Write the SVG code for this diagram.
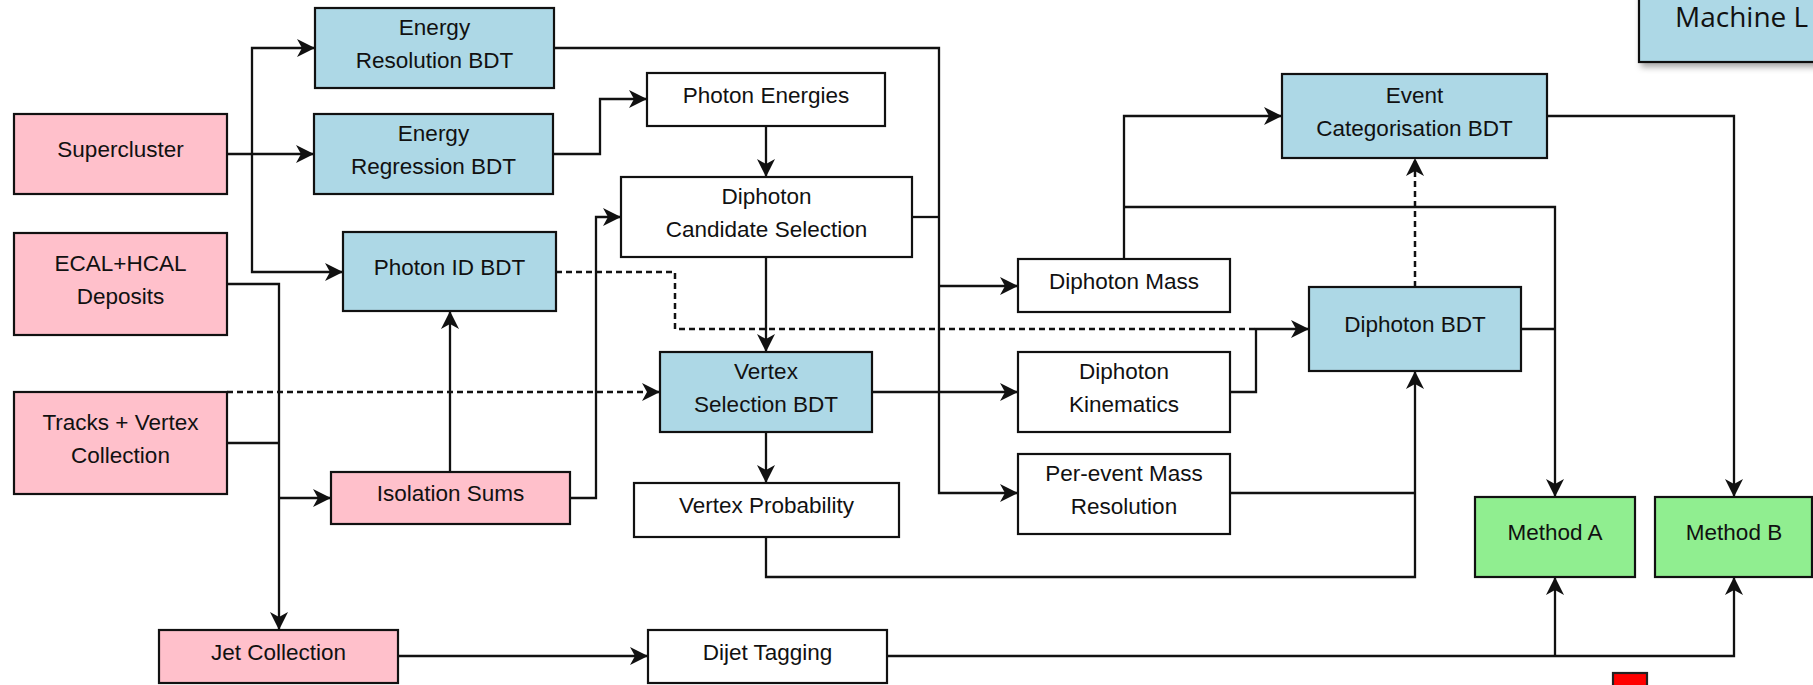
<svg xmlns="http://www.w3.org/2000/svg" width="1813" height="685" viewBox="0 0 1813 685">
<style>
.box{stroke:#111;stroke-width:2.2}
.pink{fill:#FFC0CB}
.blue{fill:#ADD8E6}
.green{fill:#90EE90}
.white{fill:#FFFFFF}
text{font-family:"Liberation Sans",Arial,sans-serif;font-size:22.5px;fill:#111;text-anchor:middle}
.ml{font-family:"Open Sans","Noto Sans",sans-serif;font-size:28px;text-anchor:start}
.c{fill:none;stroke:#111;stroke-width:2.3}
.d{fill:none;stroke:#111;stroke-width:2.5;stroke-dasharray:6 4}
</style>
<defs>
<marker id="arr" markerUnits="userSpaceOnUse" markerWidth="19" markerHeight="18" refX="18" refY="9" orient="auto">
<path d="M0,0 L18,9 L0,18 L5,9 z" fill="#111"/>
</marker>
<filter id="sh" x="-20%" y="-20%" width="150%" height="160%">
<feDropShadow dx="3" dy="4" stdDeviation="3" flood-color="#000" flood-opacity="0.35"/>
</filter>
</defs>
<rect width="1813" height="685" fill="#FFFFFF"/>

<g id="legend">
<rect x="1639" y="-10" width="190" height="72" class="box blue" filter="url(#sh)"/>
<text class="ml" x="1675" y="27">Machine L</text>
</g>

<g id="connectors">
<path class="c" d="M227,154 L314,154" marker-end="url(#arr)"/>
<path class="c" d="M252,154 L252,48 L315,48" marker-end="url(#arr)"/>
<path class="c" d="M252,154 L252,272 L343,272" marker-end="url(#arr)"/>
<path class="c" d="M227,284 L279,284 L279,630" marker-end="url(#arr)"/>
<path class="c" d="M227,443 L279,443"/>
<path class="c" d="M279,498 L331,498" marker-end="url(#arr)"/>
<path class="c" d="M450,472 L450,311" marker-end="url(#arr)"/>
<path class="c" d="M570,498 L596,498 L596,217 L621,217" marker-end="url(#arr)"/>
<path class="c" d="M553,154 L600,154 L600,99 L647,99" marker-end="url(#arr)"/>
<path class="c" d="M766,126 L766,177" marker-end="url(#arr)"/>
<path class="c" d="M766,257 L766,352" marker-end="url(#arr)"/>
<path class="c" d="M766,432 L766,483" marker-end="url(#arr)"/>
<path class="c" d="M554,48 L939,48 L939,493 L1018,493" marker-end="url(#arr)"/>
<path class="c" d="M912,217 L939,217"/>
<path class="c" d="M939,286 L1018,286" marker-end="url(#arr)"/>
<path class="c" d="M872,392 L1018,392" marker-end="url(#arr)"/>
<path class="c" d="M1230,392 L1256,392 L1256,329 L1309,329" marker-end="url(#arr)"/>
<path class="c" d="M766,537 L766,577 L1415,577 L1415,371" marker-end="url(#arr)"/>
<path class="c" d="M1230,493 L1415,493"/>
<path class="c" d="M1124,259 L1124,116 L1282,116" marker-end="url(#arr)"/>
<path class="c" d="M1124,207 L1555,207 L1555,497" marker-end="url(#arr)"/>
<path class="c" d="M1521,329 L1555,329"/>
<path class="c" d="M1547,116 L1734,116 L1734,497" marker-end="url(#arr)"/>
<path class="c" d="M398,656 L648,656" marker-end="url(#arr)"/>
<path class="c" d="M887,656 L1734,656 L1734,577" marker-end="url(#arr)"/>
<path class="c" d="M1555,656 L1555,577" marker-end="url(#arr)"/>
<path class="d" d="M227,392 L660,392" marker-end="url(#arr)"/>
<path class="d" d="M556,272 L675,272 L675,329 L1256,329"/>
<path class="d" d="M1415,287 L1415,158" marker-end="url(#arr)"/>
</g>

<g id="supercluster"><rect x="14" y="114" width="213" height="80" class="box pink"/><text x="120.5" y="157">Supercluster</text></g>
<g id="ecal-hcal"><rect x="14" y="233" width="213" height="102" class="box pink"/><text x="120.5" y="270.5">ECAL+HCAL</text><text x="120.5" y="303.5">Deposits</text></g>
<g id="tracks"><rect x="14" y="392" width="213" height="102" class="box pink"/><text x="120.5" y="429.5">Tracks + Vertex</text><text x="120.5" y="462.5">Collection</text></g>
<g id="jet-collection"><rect x="159" y="630" width="239" height="53" class="box pink"/><text x="278.5" y="660">Jet Collection</text></g>
<g id="isolation-sums"><rect x="331" y="472" width="239" height="52" class="box pink"/><text x="450.5" y="501">Isolation Sums</text></g>

<g id="energy-resolution-bdt"><rect x="315" y="8" width="239" height="80" class="box blue"/><text x="434.5" y="34.5">Energy</text><text x="434.5" y="67.5">Resolution BDT</text></g>
<g id="energy-regression-bdt"><rect x="314" y="114" width="239" height="80" class="box blue"/><text x="433.5" y="140.5">Energy</text><text x="433.5" y="173.5">Regression BDT</text></g>
<g id="photon-id-bdt"><rect x="343" y="232" width="213" height="79" class="box blue"/><text x="449.5" y="274.5">Photon ID BDT</text></g>

<g id="photon-energies"><rect x="647" y="73" width="238" height="53" class="box white"/><text x="766" y="103">Photon Energies</text></g>
<g id="diphoton-candidate-selection"><rect x="621" y="177" width="291" height="80" class="box white"/><text x="766.5" y="203.5">Diphoton</text><text x="766.5" y="236.5">Candidate Selection</text></g>
<g id="vertex-selection-bdt"><rect x="660" y="352" width="212" height="80" class="box blue"/><text x="766" y="378.5">Vertex</text><text x="766" y="411.5">Selection BDT</text></g>
<g id="vertex-probability"><rect x="634" y="483" width="265" height="54" class="box white"/><text x="766.5" y="513">Vertex Probability</text></g>
<g id="dijet-tagging"><rect x="648" y="630" width="239" height="53" class="box white"/><text x="767.5" y="660">Dijet Tagging</text></g>

<g id="diphoton-mass"><rect x="1018" y="259" width="212" height="53" class="box white"/><text x="1124" y="289">Diphoton Mass</text></g>
<g id="diphoton-kinematics"><rect x="1018" y="352" width="212" height="80" class="box white"/><text x="1124" y="378.5">Diphoton</text><text x="1124" y="411.5">Kinematics</text></g>
<g id="per-event-mass-resolution"><rect x="1018" y="454" width="212" height="80" class="box white"/><text x="1124" y="480.5">Per-event Mass</text><text x="1124" y="513.5">Resolution</text></g>

<g id="event-categorisation-bdt"><rect x="1282" y="74" width="265" height="84" class="box blue"/><text x="1414.5" y="102.5">Event</text><text x="1414.5" y="135.5">Categorisation BDT</text></g>
<g id="diphoton-bdt"><rect x="1309" y="287" width="212" height="84" class="box blue"/><text x="1415" y="332">Diphoton BDT</text></g>
<g id="method-a"><rect x="1475" y="497" width="160" height="80" class="box green"/><text x="1555" y="540">Method A</text></g>
<g id="method-b"><rect x="1655" y="497" width="157" height="80" class="box green"/><text x="1734" y="540">Method B</text></g>

<g id="red-marker"><rect x="1613" y="673" width="34" height="20" fill="#FF0000" stroke="#222" stroke-width="2.2"/></g>
</svg>
